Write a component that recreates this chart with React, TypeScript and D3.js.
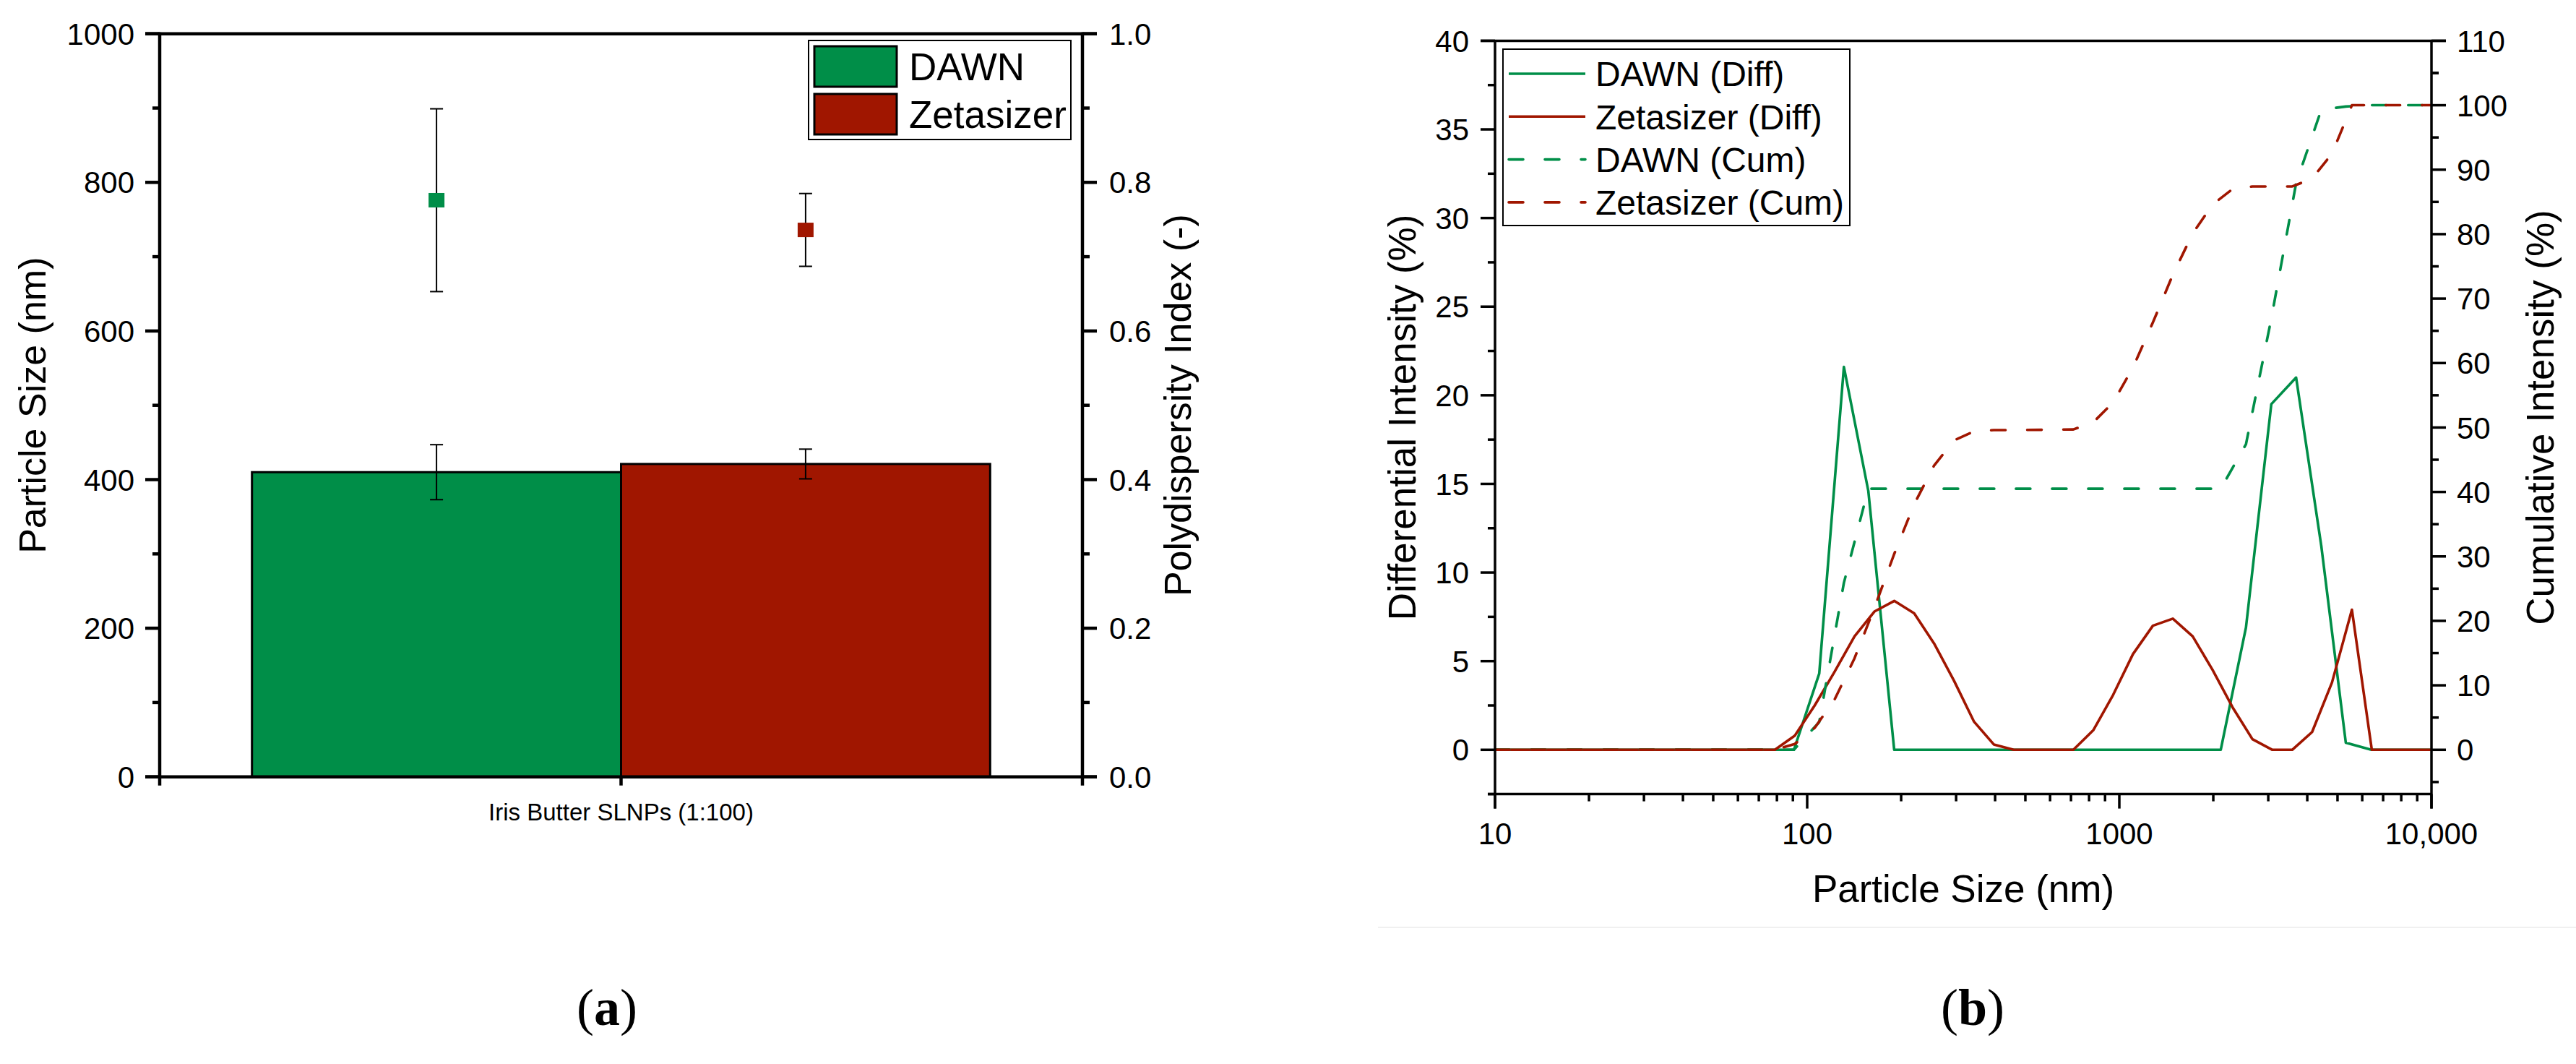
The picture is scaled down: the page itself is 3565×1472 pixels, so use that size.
import React, { useEffect, useRef } from 'react'
import * as d3 from 'd3'

// ---- panel (a) data
const categories = ['Iris Butter SLNPs (1:100)']
const instruments = ['DAWN', 'Zetasizer']
const sizeMean = [410, 421]
const sizeErr = [37, 20]
const pdiMean = [0.776, 0.736]
const pdiErr = [0.123, 0.049]

// ---- panel (b) data
const dawnSize = [10, 90.7, 109.3, 131.1, 157, 190, 2113, 2545, 3068, 3684, 4436, 5315, 6412, 10000]
const dawnDiff = [0, 0, 4.3, 21.6, 14.6, 0, 0, 6.9, 19.5, 21.0, 11.5, 0.4, 0, 0]
const dawnCum = [0, 0, 4.3, 25.9, 40.5, 40.5, 40.5, 47.4, 66.9, 87.9, 99.3, 99.8, 100, 100]

const zetaSize = [
  10, 78.82, 91.28, 105.7, 122.4, 141.8, 164.2, 190.1, 220.2, 255.0, 295.3, 342.0, 396.1, 458.7, 712.4, 825.0,
  955.4, 1106, 1281, 1484, 1718, 1990, 2305, 2669, 3091, 3580, 4145, 4801, 5560, 6439, 10000
]
const zetaDiff = [
  0, 0, 0.8, 2.5, 4.4, 6.4, 7.8, 8.4, 7.7, 6.0, 3.9, 1.6, 0.3, 0, 0, 1.1, 3.1, 5.4, 7.0, 7.4, 6.4, 4.5, 2.4, 0.6, 0,
  0, 1.0, 3.8, 7.9, 0, 0
]
const zetaCum = [
  0, 0, 0.9, 3.4, 7.8, 14.2, 22.0, 30.4, 38.1, 44.1, 48.0, 49.4, 49.6, 49.6, 49.7, 50.8, 53.9, 59.3, 66.3, 73.7, 80.1,
  84.6, 87.0, 87.4, 87.4, 87.4, 88.6, 92.5, 100, 100, 100
]

const diffTicks = [0, 5, 10, 15, 20, 25, 30, 35, 40]
const cumTicks = [0, 10, 20, 30, 40, 50, 60, 70, 80, 90, 100, 110]
const sizeTicks = [10, 100, 1000, 10000]
const sizeTickLabels = ['10', '100', '1000', '10,000']

const GREEN = '#008e48'
const RED = '#a01600'
const SANS = '"Liberation Sans", Arial, sans-serif'
const SERIF = '"Liberation Serif", "Times New Roman", serif'

const W = 3565
const H = 1472

const drawA = (svg: any) => {
  const g = svg.append('g')
  const left = 221
  const right = 1498
  const top = 46.7
  const bottom = 1074.7

  const x = d3.scaleBand().domain(categories).range([left, right]).paddingInner(0).paddingOuter(0.125)
  const xSub = d3.scaleBand().domain(instruments).range([0, x.bandwidth()])
  const y = d3.scaleLinear().domain([0, 1000]).range([bottom, top])
  const yPdi = d3.scaleLinear().domain([0, 1]).range([bottom, top])
  const colors = [GREEN, RED]

  // bars
  instruments.forEach((name, i) => {
    const x0 = (x(categories[0]) as number) + (xSub(name) as number)
    g.append('rect')
      .attr('x', x0)
      .attr('y', y(sizeMean[i]))
      .attr('width', xSub.bandwidth())
      .attr('height', y(0) - y(sizeMean[i]))
      .attr('fill', colors[i])
      .attr('stroke', '#000')
      .attr('stroke-width', 3)
  })

  // error bars (size + pdi)
  const errBar = (cx: number, lo: number, hi: number) => {
    g.append('line').attr('x1', cx).attr('x2', cx).attr('y1', lo).attr('y2', hi).attr('stroke', '#000').attr('stroke-width', 2)
    ;[lo, hi].forEach(v =>
      g.append('line').attr('x1', cx - 9).attr('x2', cx + 9).attr('y1', v).attr('y2', v).attr('stroke', '#000').attr('stroke-width', 2)
    )
  }
  instruments.forEach((name, i) => {
    const cx = (x(categories[0]) as number) + (xSub(name) as number) + xSub.bandwidth() / 2
    errBar(cx, y(sizeMean[i] - sizeErr[i]), y(sizeMean[i] + sizeErr[i]))
    errBar(cx, yPdi(pdiMean[i] - pdiErr[i]), yPdi(pdiMean[i] + pdiErr[i]))
    g.append('rect')
      .attr('x', cx - 11)
      .attr('y', yPdi(pdiMean[i]) - 10)
      .attr('width', 22)
      .attr('height', 20)
      .attr('fill', colors[i])
  })

  // frame
  const ax = g.append('g').attr('stroke', '#000').attr('stroke-width', 4.5)
  ax.append('line').attr('x1', left).attr('x2', left).attr('y1', top - 2).attr('y2', bottom + 12)
  ax.append('line').attr('x1', right).attr('x2', right).attr('y1', top - 2).attr('y2', bottom + 12)
  ax.append('line').attr('x1', left - 20).attr('x2', right + 20).attr('y1', top).attr('y2', top)
  ax.append('line').attr('x1', left - 20).attr('x2', right + 20).attr('y1', bottom).attr('y2', bottom)
  ax.append('line')
    .attr('x1', (x(categories[0]) as number) + x.bandwidth() / 2)
    .attr('x2', (x(categories[0]) as number) + x.bandwidth() / 2)
    .attr('y1', bottom)
    .attr('y2', bottom + 12)

  d3.range(100, 1000, 200).forEach(v => {
    ax.append('line').attr('x1', left - 10).attr('x2', left).attr('y1', y(v)).attr('y2', y(v))
    ax.append('line').attr('x1', right).attr('x2', right + 10).attr('y1', y(v)).attr('y2', y(v))
  })
  y.ticks(5).forEach(v => {
    ax.append('line').attr('x1', left - 20).attr('x2', left).attr('y1', y(v)).attr('y2', y(v))
    g.append('text').attr('x', left - 35).attr('y', y(v)).attr('dy', '0.36em').attr('text-anchor', 'end').attr('font-size', 42).text(String(v))
  })
  yPdi.ticks(5).forEach(v => {
    ax.append('line').attr('x1', right).attr('x2', right + 20).attr('y1', yPdi(v)).attr('y2', yPdi(v))
    g.append('text').attr('x', right + 37).attr('y', yPdi(v)).attr('dy', '0.36em').attr('font-size', 42).text(d3.format('.1f')(v))
  })

  g.append('text')
    .attr('x', (x(categories[0]) as number) + x.bandwidth() / 2)
    .attr('y', 1135)
    .attr('text-anchor', 'middle')
    .attr('font-size', 33)
    .text(categories[0])

  g.append('text')
    .attr('transform', `translate(63,${(top + bottom) / 2}) rotate(-90)`)
    .attr('text-anchor', 'middle')
    .attr('font-size', 52)
    .text('Particle Size (nm)')
  g.append('text')
    .attr('transform', `translate(1648,${(top + bottom) / 2}) rotate(-90)`)
    .attr('text-anchor', 'middle')
    .attr('font-size', 52)
    .text('Polydispersity Index (-)')

  // legend
  const lg = g.append('g')
  lg.append('rect').attr('x', 1119).attr('y', 56).attr('width', 363).attr('height', 137).attr('fill', '#fff').attr('stroke', '#000').attr('stroke-width', 2)
  instruments.forEach((name, i) => {
    lg.append('rect')
      .attr('x', 1127)
      .attr('y', 64 + i * 66)
      .attr('width', 114)
      .attr('height', 56)
      .attr('fill', colors[i])
      .attr('stroke', '#000')
      .attr('stroke-width', 3)
    lg.append('text').attr('x', 1258).attr('y', 92 + i * 66).attr('dy', '0.36em').attr('font-size', 53).text(name)
  })
}

const drawB = (svg: any) => {
  const g = svg.append('g')
  const left = 2069
  const right = 3365
  const top = 56.4
  const bottom = 1098.6

  const x = d3.scaleLog().domain([10, 10000]).range([left, right])
  const yDiff = d3.scaleLinear().domain([-2.5, 40]).range([bottom, top])
  const yCum = d3.scaleLinear().domain([-6.875, 110]).range([bottom, top])

  const series = [
    { xs: dawnSize, ys: dawnDiff, scale: yDiff, color: GREEN, dash: null, name: 'DAWN (Diff)' },
    { xs: zetaSize, ys: zetaDiff, scale: yDiff, color: RED, dash: null, name: 'Zetasizer (Diff)' },
    { xs: dawnSize, ys: dawnCum, scale: yCum, color: GREEN, dash: '20,30', name: 'DAWN (Cum)' },
    { xs: zetaSize, ys: zetaCum, scale: yCum, color: RED, dash: '20,30', name: 'Zetasizer (Cum)' }
  ]

  series.forEach(s => {
    const line = d3
      .line<number>()
      .x((_, i) => x(s.xs[i]))
      .y(d => s.scale(d))
    g.append('path')
      .attr('d', line(s.ys))
      .attr('fill', 'none')
      .attr('stroke', s.color)
      .attr('stroke-width', 3.6)
      .attr('stroke-linejoin', 'round')
      .attr('stroke-linecap', s.dash ? 'round' : 'butt')
      .attr('stroke-dasharray', s.dash)
  })

  const ax = g.append('g').attr('stroke', '#000').attr('stroke-width', 3.5)
  ax.append('line').attr('x1', left).attr('x2', left).attr('y1', top).attr('y2', bottom + 20)
  ax.append('line').attr('x1', right).attr('x2', right).attr('y1', top - 1.5).attr('y2', bottom + 20)
  ax.append('line').attr('x1', left - 20).attr('x2', right + 20).attr('y1', top).attr('y2', top)
  ax.append('line').attr('x1', left - 10).attr('x2', right).attr('y1', bottom).attr('y2', bottom)

  diffTicks.forEach(v => {
    ax.append('line').attr('x1', left - 20).attr('x2', left).attr('y1', yDiff(v)).attr('y2', yDiff(v))
    g.append('text').attr('x', left - 36).attr('y', yDiff(v)).attr('dy', '0.36em').attr('text-anchor', 'end').attr('font-size', 42).text(String(v))
  })
  diffTicks.forEach(v => {
    ax.append('line').attr('x1', left - 10).attr('x2', left).attr('y1', yDiff(v - 2.5)).attr('y2', yDiff(v - 2.5))
  })
  cumTicks.forEach(v => {
    ax.append('line').attr('x1', right).attr('x2', right + 20).attr('y1', yCum(v)).attr('y2', yCum(v))
    ax.append('line').attr('x1', right).attr('x2', right + 10).attr('y1', yCum(v - 5)).attr('y2', yCum(v - 5))
    g.append('text').attr('x', right + 35).attr('y', yCum(v)).attr('dy', '0.36em').attr('font-size', 42).text(String(v))
  })
  ax.append('line').attr('x1', right).attr('x2', right + 10).attr('y1', yCum(105)).attr('y2', yCum(105))

  sizeTicks.forEach((v, i) => {
    ax.append('line').attr('x1', x(v)).attr('x2', x(v)).attr('y1', bottom).attr('y2', bottom + 20)
    g.append('text').attr('x', x(v)).attr('y', 1168).attr('text-anchor', 'middle').attr('font-size', 42).text(sizeTickLabels[i])
    if (i < sizeTicks.length - 1) {
      d3.range(2, 10).forEach(k => {
        ax.append('line').attr('x1', x(v * k)).attr('x2', x(v * k)).attr('y1', bottom).attr('y2', bottom + 10)
      })
    }
  })

  g.append('text')
    .attr('x', (left + right) / 2 + 0)
    .attr('y', 1248)
    .attr('text-anchor', 'middle')
    .attr('font-size', 53)
    .text('Particle Size (nm)')
  g.append('text')
    .attr('transform', `translate(1959,${(top + bottom) / 2}) rotate(-90)`)
    .attr('text-anchor', 'middle')
    .attr('font-size', 53)
    .text('Differential Intensity (%)')
  g.append('text')
    .attr('transform', `translate(3534,${(top + bottom) / 2}) rotate(-90)`)
    .attr('text-anchor', 'middle')
    .attr('font-size', 53)
    .text('Cumulative Intensity (%)')

  // legend
  const lg = g.append('g')
  lg.append('rect').attr('x', 2080).attr('y', 68).attr('width', 480).attr('height', 244).attr('fill', '#fff').attr('stroke', '#000').attr('stroke-width', 2)
  series.forEach((s, i) => {
    const cy = 102 + i * 59.3
    lg.append('line')
      .attr('x1', 2088)
      .attr('x2', 2194)
      .attr('y1', cy)
      .attr('y2', cy)
      .attr('stroke', s.color)
      .attr('stroke-width', 3.6)
      .attr('stroke-linecap', s.dash ? 'round' : 'butt')
      .attr('stroke-dasharray', s.dash)
    lg.append('text').attr('x', 2208).attr('y', cy).attr('dy', '0.36em').attr('font-size', 48).text(s.name)
  })

  // faint separator under panel (b)
  g.append('line').attr('x1', 1907).attr('x2', W).attr('y1', 1283).attr('y2', 1283).attr('stroke', '#f0f0f0').attr('stroke-width', 2)
}

const App = () => {
  const ref = useRef<SVGSVGElement>(null)

  useEffect(() => {
    const svg = d3.select(ref.current)
    svg.selectAll('*').remove()
    svg.append('rect').attr('width', W).attr('height', H).attr('fill', '#fff')
    drawA(svg)
    drawB(svg)

    // panel captions
    ;[
      { cx: 840, label: 'a' },
      { cx: 2730, label: 'b' }
    ].forEach(c => {
      const t = svg.append('text').attr('x', c.cx).attr('y', 1418).attr('text-anchor', 'middle').attr('font-family', SERIF).attr('font-size', 72)
      t.append('tspan').text('(')
      t.append('tspan').attr('font-weight', 'bold').text(c.label)
      t.append('tspan').text(')')
    })
  }, [])

  return (
    <div style={{ position: 'absolute', left: 0, top: 0 }}>
      <svg ref={ref} width={W} height={H} style={{ display: 'block', fontFamily: SANS }} />
    </div>
  )
}

export default App
